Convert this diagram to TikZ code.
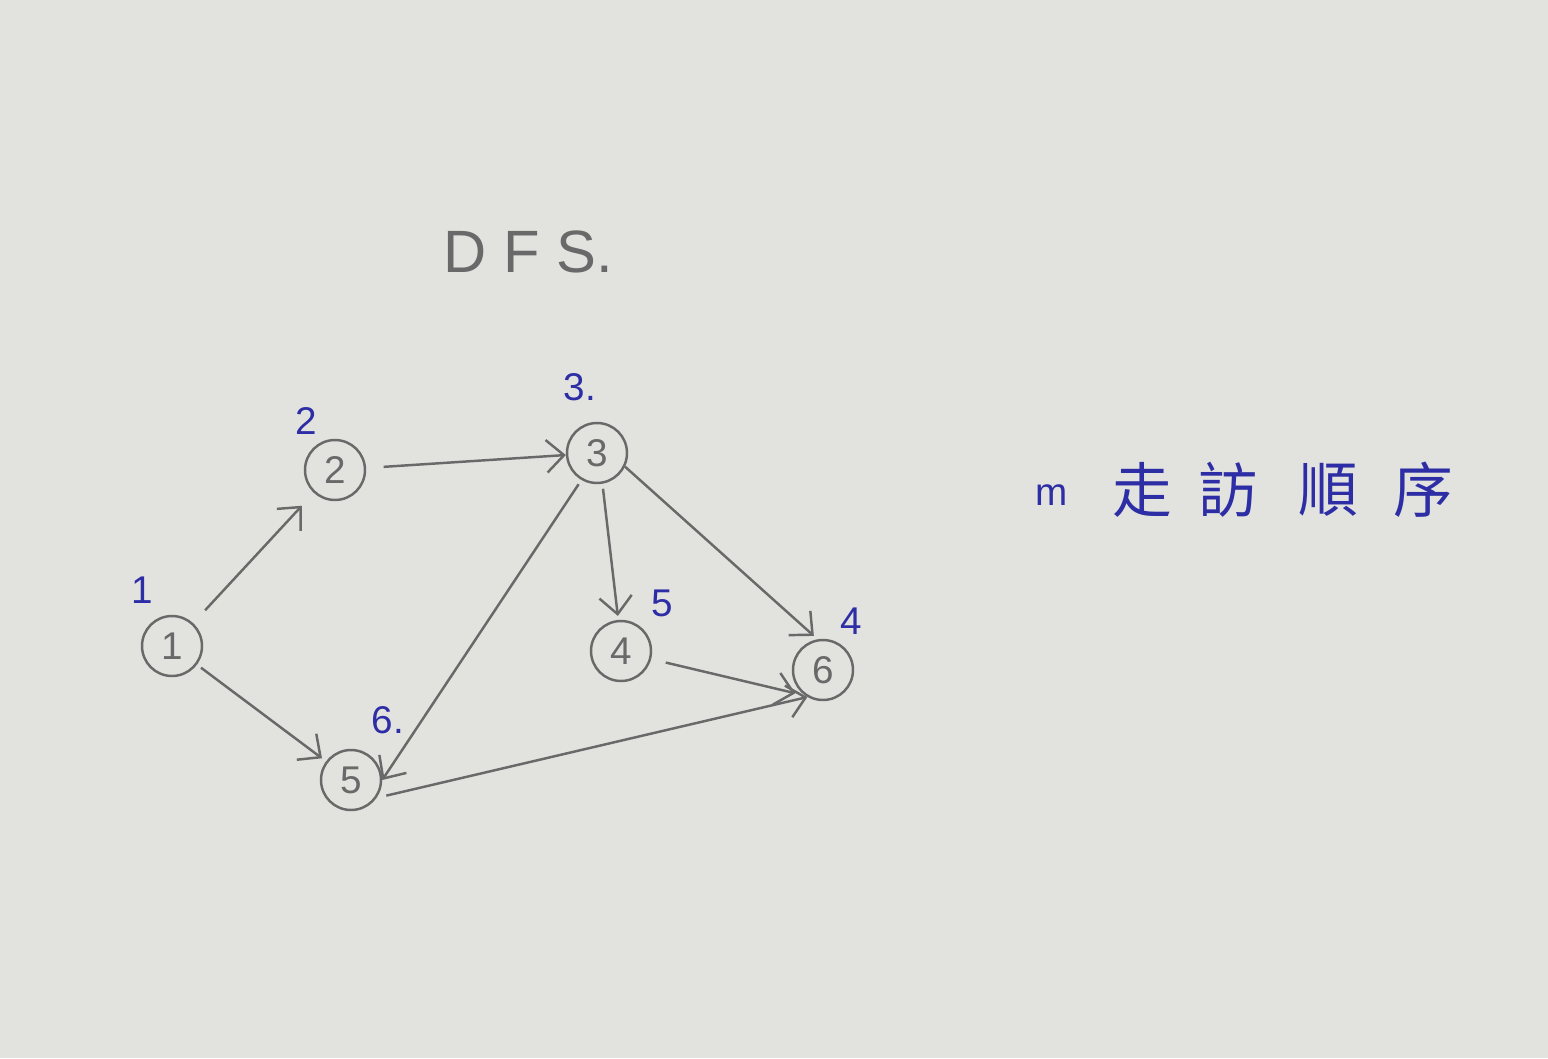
\documentclass[tikz,border=0pt]{standalone}
\usepackage{fontspec}
\setmainfont{Liberation Sans}
\newfontfamily\cjk{Noto Sans CJK TC}
\usetikzlibrary{arrows.meta}
\definecolor{paper}{RGB}{226,226,223}
\definecolor{pencil}{RGB}{105,105,105}
\definecolor{ink}{RGB}{45,45,165}
\tikzset{
    vertex/.style={circle, draw=pencil, line width=1.4pt, minimum size=1.2cm, inner sep=0pt, text=pencil, font=\fontsize{22}{22}\selectfont},
    order/.style={text=ink, font=\fontsize{22}{22}\selectfont},
    arc/.style={pencil, line width=1.4pt, -{Straight Barb[length=3.5mm,width=6.5mm]}}
}

\begin{document}
\begin{tikzpicture}[x=0.02cm, y=-0.02cm]
            \fill[paper] (0,0) rectangle (1548,1058);
            \useasboundingbox (0,0) rectangle (1548,1058);
            \node[text=pencil, font=\fontsize{34}{34}\selectfont] (title) at (528,252) {D F S.};
            \foreach \i/\x/\y in {1/172/646, 2/335/470, 3/597/453, 4/621/651, 5/351/780, 6/823/670} {
                \node[vertex] (v\i) at (\x, \y) {\i};
            }
            \foreach \i/\x/\y/\lbl in {1/142/590/1, 2/306/421/2, 3/580/387/3., 4/662/603/5, 5/388/720/6., 6/851/621/4} {
                \node[order] (o\i) at (\x, \y) {\lbl};
            }
            \foreach \a/\b/\s/\e in {v1/v2/0.35/0.35, v1/v5/0.1/0.1, v2/v3/0.35/0, v3.280/v4.95/0.1/0.08,
                                     v3.-26/v6.100/0/0.1, v3.240/v5.east/0.1/0, v4.-15/v6.235/0.3/0.2, v5.-35/v6.240/0.2/0} {
                \draw[arc, shorten <=\s cm, shorten >=\e cm] (\a) -- (\b);
            }
            % legend
            \node[order] (mark) at (1052,495) {m};
            \foreach \i/\x/\c in {1/1142/走, 2/1228/訪, 3/1328/順, 4/1423/序} {
                \node[text=ink, font=\cjk\fontsize{34}{34}\selectfont] (c\i) at (\x, 490) {\c};
            }
        \end{tikzpicture}
\end{document}
